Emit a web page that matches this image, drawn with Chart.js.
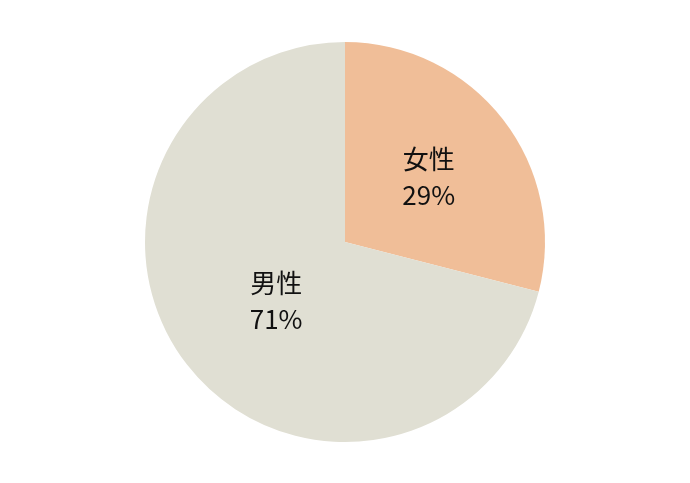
<!DOCTYPE html>
<html>
<head>
<meta charset="utf-8">
<script src="https://cdn.jsdelivr.net/npm/chart.js@4"></script>
<style>
html,body{margin:0;padding:0;background:#fff;}
#wrap{width:690px;height:483px;}
</style>
</head>
<body>
<div id="wrap"><canvas id="c" width="690" height="483"></canvas></div>
<script>
const categories = ["女性", "男性"];
const values = [29, 71];
const colors = ["#F0BE98", "#E0DFD3"];

const labelPlugin = {
  id: 'sliceLabels',
  afterDatasetsDraw(chart) {
    const ctx = chart.ctx;
    const meta = chart.getDatasetMeta(0);
    const radiusFrac = [0.53, 0.48];
    const shiftX = [0, 7];
    ctx.save();
    ctx.fillStyle = '#111';
    ctx.font = '26px "Noto Sans CJK JP", "Noto Sans", sans-serif';
    ctx.textAlign = 'center';
    ctx.textBaseline = 'middle';
    meta.data.forEach((arc, i) => {
      const p = arc.getProps(['x','y','startAngle','endAngle','outerRadius'], true);
      const mid = (p.startAngle + p.endAngle) / 2;
      const r = p.outerRadius * radiusFrac[i];
      const x = p.x + Math.cos(mid) * r + shiftX[i];
      const y = p.y + Math.sin(mid) * r;
      ctx.fillText(categories[i], x, y - 18);
      ctx.fillText(values[i] + '%', x, y + 18);
    });
    ctx.restore();
  }
};

new Chart(document.getElementById('c'), {
  type: 'pie',
  data: {
    labels: categories,
    datasets: [{ data: values, backgroundColor: colors, borderWidth: 0 }]
  },
  options: {
    responsive: false,
    animation: false,
    layout: { padding: { top: 42, bottom: 41, left: 0, right: 0 } },
    plugins: { legend: { display: false }, tooltip: { enabled: false } }
  },
  plugins: [labelPlugin]
});
</script>
</body>
</html>
